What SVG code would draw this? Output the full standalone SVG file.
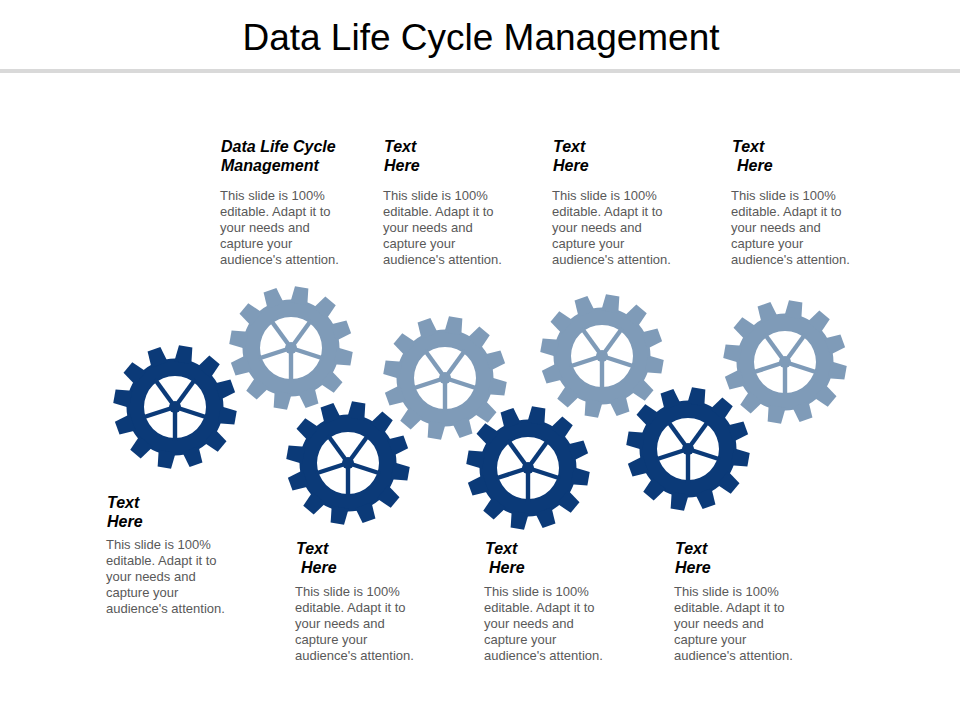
<svg xmlns="http://www.w3.org/2000/svg" xmlns:xlink="http://www.w3.org/1999/xlink" width="960" height="720" viewBox="0 0 960 720">
<style>
.title{font-family:"Liberation Sans",Arial,sans-serif;font-size:37px;fill:#000;}
.h{font-family:"Liberation Sans",Arial,sans-serif;font-size:16px;font-weight:bold;font-style:italic;fill:#000;}
.b{font-family:"Liberation Sans",Arial,sans-serif;font-size:13px;fill:#595959;}
.dark{fill:#0B3A78;}
.light{fill:#7F9BB8;}
</style>
<defs>
<polygon id="tooth" points="45,-8.6 61.5,-6.8 61.5,6.8 45,8.6"/>
<rect id="spoke" x="0" y="-2.2" width="34" height="4.4"/>
<g id="gear">
<path fill-rule="evenodd" d="M48.5 0A48.5 48.5 0 1 1 -48.5 0A48.5 48.5 0 1 1 48.5 0ZM31 0A31 31 0 1 0 -31 0A31 31 0 1 0 31 0Z"/>
<use xlink:href="#tooth" transform="rotate(10)"/>
<use xlink:href="#tooth" transform="rotate(40)"/>
<use xlink:href="#tooth" transform="rotate(70)"/>
<use xlink:href="#tooth" transform="rotate(100)"/>
<use xlink:href="#tooth" transform="rotate(130)"/>
<use xlink:href="#tooth" transform="rotate(160)"/>
<use xlink:href="#tooth" transform="rotate(190)"/>
<use xlink:href="#tooth" transform="rotate(220)"/>
<use xlink:href="#tooth" transform="rotate(250)"/>
<use xlink:href="#tooth" transform="rotate(280)"/>
<use xlink:href="#tooth" transform="rotate(310)"/>
<use xlink:href="#tooth" transform="rotate(340)"/>
<use xlink:href="#spoke" transform="rotate(18)"/>
<use xlink:href="#spoke" transform="rotate(90)"/>
<use xlink:href="#spoke" transform="rotate(162)"/>
<use xlink:href="#spoke" transform="rotate(234)"/>
<use xlink:href="#spoke" transform="rotate(306)"/>
<circle r="6"/>
</g>
</defs>
<rect width="960" height="720" fill="#fff"/>
<text class="title" x="481" y="50" text-anchor="middle">Data Life Cycle Management</text>
<rect x="0" y="69" width="960" height="4" fill="#D9D9D9"/>
<g id="connectors"/>

<g id="node1">
<use xlink:href="#gear" class="dark" transform="translate(175,407)"/>
<text class="h" x="107" y="508">Text</text>
<text class="h" x="107" y="527">Here</text>
<text class="b" x="106" y="549">This slide is 100%</text>
<text class="b" x="106" y="565">editable. Adapt it to</text>
<text class="b" x="106" y="581">your needs and</text>
<text class="b" x="106" y="597">capture your</text>
<text class="b" x="106" y="613">audience's attention.</text>
</g>

<g id="node2">
<use xlink:href="#gear" class="light" transform="translate(291,348)"/>
<text class="h" x="221" y="152">Data Life Cycle</text>
<text class="h" x="221" y="171">Management</text>
<text class="b" x="220" y="200">This slide is 100%</text>
<text class="b" x="220" y="216">editable. Adapt it to</text>
<text class="b" x="220" y="232">your needs and</text>
<text class="b" x="220" y="248">capture your</text>
<text class="b" x="220" y="264">audience's attention.</text>
</g>

<g id="node3">
<use xlink:href="#gear" class="dark" transform="translate(348,463)"/>
<text class="h" x="296" y="554">Text</text>
<text class="h" x="301" y="573">Here</text>
<text class="b" x="295" y="596">This slide is 100%</text>
<text class="b" x="295" y="612">editable. Adapt it to</text>
<text class="b" x="295" y="628">your needs and</text>
<text class="b" x="295" y="644">capture your</text>
<text class="b" x="295" y="660">audience's attention.</text>
</g>

<g id="node4">
<use xlink:href="#gear" class="light" transform="translate(445,378)"/>
<text class="h" x="384" y="152">Text</text>
<text class="h" x="384" y="171">Here</text>
<text class="b" x="383" y="200">This slide is 100%</text>
<text class="b" x="383" y="216">editable. Adapt it to</text>
<text class="b" x="383" y="232">your needs and</text>
<text class="b" x="383" y="248">capture your</text>
<text class="b" x="383" y="264">audience's attention.</text>
</g>

<g id="node5">
<use xlink:href="#gear" class="dark" transform="translate(528,468)"/>
<text class="h" x="485" y="554">Text</text>
<text class="h" x="489" y="573">Here</text>
<text class="b" x="484" y="596">This slide is 100%</text>
<text class="b" x="484" y="612">editable. Adapt it to</text>
<text class="b" x="484" y="628">your needs and</text>
<text class="b" x="484" y="644">capture your</text>
<text class="b" x="484" y="660">audience's attention.</text>
</g>

<g id="node6">
<use xlink:href="#gear" class="light" transform="translate(602,356)"/>
<text class="h" x="553" y="152">Text</text>
<text class="h" x="553" y="171">Here</text>
<text class="b" x="552" y="200">This slide is 100%</text>
<text class="b" x="552" y="216">editable. Adapt it to</text>
<text class="b" x="552" y="232">your needs and</text>
<text class="b" x="552" y="248">capture your</text>
<text class="b" x="552" y="264">audience's attention.</text>
</g>

<g id="node7">
<use xlink:href="#gear" class="dark" transform="translate(688,449)"/>
<text class="h" x="675" y="554">Text</text>
<text class="h" x="675" y="573">Here</text>
<text class="b" x="674" y="596">This slide is 100%</text>
<text class="b" x="674" y="612">editable. Adapt it to</text>
<text class="b" x="674" y="628">your needs and</text>
<text class="b" x="674" y="644">capture your</text>
<text class="b" x="674" y="660">audience's attention.</text>
</g>

<g id="node8">
<use xlink:href="#gear" class="light" transform="translate(785,362)"/>
<text class="h" x="732" y="152">Text</text>
<text class="h" x="737" y="171">Here</text>
<text class="b" x="731" y="200">This slide is 100%</text>
<text class="b" x="731" y="216">editable. Adapt it to</text>
<text class="b" x="731" y="232">your needs and</text>
<text class="b" x="731" y="248">capture your</text>
<text class="b" x="731" y="264">audience's attention.</text>
</g>
</svg>
